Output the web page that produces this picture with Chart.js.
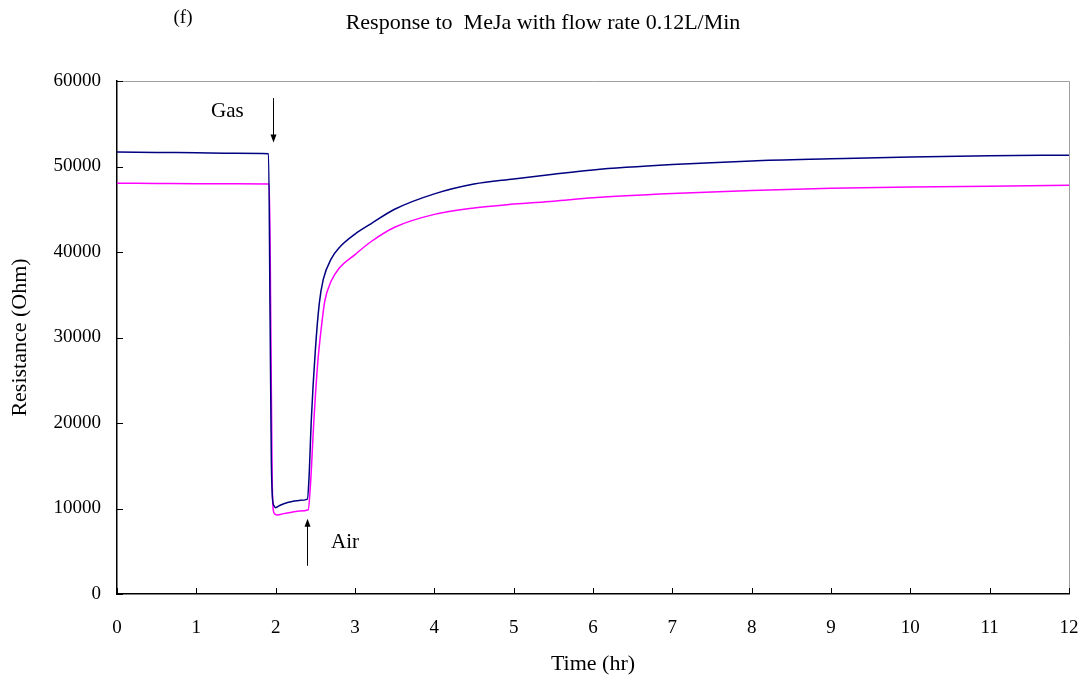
<!DOCTYPE html>
<html>
<head>
<meta charset="utf-8">
<script src="https://cdn.jsdelivr.net/npm/chart.js@4.4.0/dist/chart.umd.min.js"></script>
<style>
  html, body { margin: 0; padding: 0; background: #fff; }
  #wrap { width: 1092px; height: 684px; position: relative; }
</style>
</head>
<body>
<div id="wrap"><canvas id="respChart"></canvas></div>
<script>
// time in hours
var timeNavy = [0, 0.5, 1.0, 1.5, 1.91, 1.93, 1.945, 1.96, 1.98, 2.0, 2.05, 2.15, 2.3, 2.4,
    2.42, 2.45, 2.5, 2.55, 2.6, 2.7, 2.8, 3.0, 3.2, 3.5, 4.0, 4.5, 5.0, 5.5, 6, 7, 8, 9, 10, 11, 12];
var resNavy = [51700, 51650, 51600, 51550, 51500, 32000, 16000, 11200, 10300, 10100, 10350, 10700, 10950, 11100,
    13500, 20500, 28500, 34000, 36800, 39200, 40500, 42100, 43300, 45000, 46800, 47950, 48550, 49100, 49600, 50220, 50650, 50900, 51120, 51250, 51330];

var timeMagenta = [0, 0.5, 1.0, 1.5, 1.92, 1.94, 1.955, 1.97, 1.99, 2.02, 2.1, 2.2, 2.3, 2.41,
    2.44, 2.48, 2.53, 2.58, 2.62, 2.7, 2.8, 3.0, 3.2, 3.5, 4.0, 4.5, 5.0, 5.5, 6, 7, 8, 9, 10, 11, 12];
var resMagenta = [48050, 48020, 47990, 47970, 47950, 30000, 14000, 9800, 9350, 9250, 9400, 9550, 9700, 9850,
    13000, 20000, 27000, 31500, 34300, 36600, 38100, 39700, 41200, 42900, 44400, 45150, 45600, 45950, 46350, 46850, 47200, 47450, 47600, 47700, 47800];

var xTicks = [0, 1, 2, 3, 4, 5, 6, 7, 8, 9, 10, 11, 12];
var yTicks = [0, 10000, 20000, 30000, 40000, 50000, 60000];

// annotation arrows in data units: [x, yFrom, yTo]
var gasArrow = [1.97, 58000, 52800];
var airArrow = [2.39, 3300, 8800];

function toPoints(xs, ys) {
    return xs.map(function (x, i) { return { x: x, y: ys[i] }; });
}

var serif = "'Liberation Serif', 'DejaVu Serif', serif";

var extras = {
    id: 'extras',
    afterDraw: function (chart) {
        var ctx = chart.ctx;
        var a = chart.chartArea;
        var xs = chart.scales.x, ys = chart.scales.y;
        ctx.save();
        // gray frame top/right
        ctx.strokeStyle = '#a0a0a0';
        ctx.lineWidth = 1;
        ctx.beginPath();
        ctx.moveTo(a.left, a.top + 0.5);
        ctx.lineTo(a.right + 0.5, a.top + 0.5);
        ctx.lineTo(a.right + 0.5, a.bottom);
        ctx.stroke();
        // inward ticks
        ctx.strokeStyle = '#000';
        ctx.beginPath();
        xTicks.forEach(function (t) {
            var px = Math.round(xs.getPixelForValue(t)) + 0.5;
            ctx.moveTo(px, a.bottom);
            ctx.lineTo(px, a.bottom - 6);
        });
        yTicks.forEach(function (t) {
            var py = Math.round(ys.getPixelForValue(t)) + 0.5;
            ctx.moveTo(a.left, py);
            ctx.lineTo(a.left + 6, py);
        });
        ctx.stroke();
        // arrows
        function arrow(spec) {
            var px = Math.round(xs.getPixelForValue(spec[0])) + 0.5;
            var y1 = ys.getPixelForValue(spec[1]);
            var y2 = ys.getPixelForValue(spec[2]);
            var dir = y2 > y1 ? 1 : -1;
            ctx.beginPath();
            ctx.moveTo(px, y1);
            ctx.lineTo(px, y2 - dir * 5);
            ctx.stroke();
            ctx.beginPath();
            ctx.moveTo(px, y2);
            ctx.lineTo(px - 3, y2 - dir * 8);
            ctx.lineTo(px + 3, y2 - dir * 8);
            ctx.closePath();
            ctx.fillStyle = '#000';
            ctx.fill();
        }
        arrow(gasArrow);
        arrow(airArrow);
        ctx.fillStyle = '#000';
        ctx.font = '21px ' + serif;
        ctx.textBaseline = 'middle';
        ctx.textAlign = 'left';
        ctx.fillText('Gas', 211, 111);
        ctx.fillText('Air', 331, 542);
        // titles
        ctx.font = '19px ' + serif;
        ctx.textAlign = 'center';
        ctx.fillText('(f)', 183, 18);
        ctx.font = '22px ' + serif;
        ctx.fillText('Response to  MeJa with flow rate 0.12L/Min', 543, 23);
        ctx.restore();
    }
};

new Chart(document.getElementById('respChart').getContext('2d'), {
    type: 'line',
    data: {
        datasets: [{
            label: 'navy',
            data: toPoints(timeNavy, resNavy),
            borderColor: '#000080',
            borderWidth: 1.5,
            pointRadius: 0,
            cubicInterpolationMode: 'monotone',
            fill: false
        }, {
            label: 'magenta',
            data: toPoints(timeMagenta, resMagenta),
            borderColor: '#ff00ff',
            borderWidth: 1.5,
            pointRadius: 0,
            cubicInterpolationMode: 'monotone',
            fill: false
        }]
    },
    options: {
        responsive: true,
        maintainAspectRatio: false,
        animation: false,
        layout: { padding: { top: 81, right: 23, left: 0, bottom: 0 } },
        plugins: {
            legend: { display: false },
            tooltip: { enabled: false },
            title: { display: false }
        },
        scales: {
            x: {
                type: 'linear',
                min: 0,
                max: 12,
                afterFit: function (s) { s.height = 90; s.paddingLeft = 0; s.paddingRight = 0; },
                afterBuildTicks: function (s) { s.ticks = xTicks.map(function (v) { return { value: v }; }); },
                grid: { display: false, drawTicks: false },
                border: { display: true, color: '#000', width: 1.5 },
                ticks: { color: '#000', font: { family: serif, size: 19 }, padding: 23, maxRotation: 0 },
                title: { display: true, text: 'Time (hr)', color: '#000', font: { family: serif, size: 22 }, padding: { top: 0, bottom: 7 } }
            },
            y: {
                min: 0,
                max: 60000,
                afterFit: function (s) { s.width = 117; s.paddingTop = 0; s.paddingBottom = 0; },
                afterBuildTicks: function (s) { s.ticks = yTicks.map(function (v) { return { value: v }; }); },
                grid: { display: false, drawTicks: false },
                border: { display: true, color: '#000', width: 1.5 },
                ticks: { color: '#000', font: { family: serif, size: 19 }, padding: 16, callback: function (v) { return String(v); } },
                title: { display: true, text: 'Resistance (Ohm)', color: '#000', font: { family: serif, size: 22 }, padding: { top: 7, bottom: 0 } }
            }
        }
    },
    plugins: [extras]
});
</script>
</body>
</html>
